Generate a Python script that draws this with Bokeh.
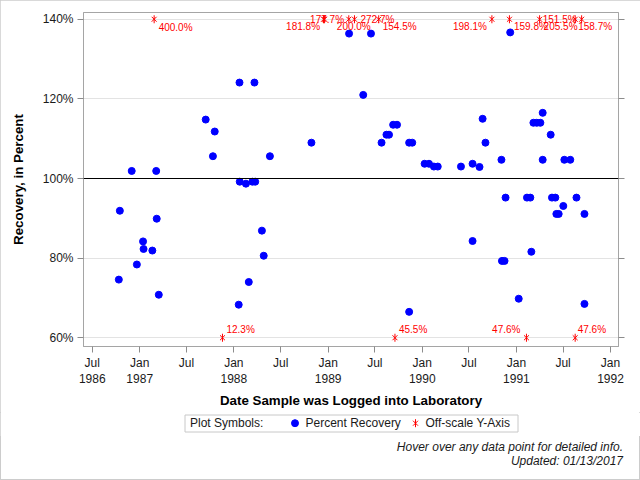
import numpy as np
import pandas as pd
from bokeh.plotting import figure
from bokeh.layouts import column
from bokeh.models import (Range1d, FixedTicker, DatetimeTickFormatter, PrintfTickFormatter,
                          CustomJSTickFormatter, LinearAxis, Span, ColumnDataSource, HoverTool,
                          Div)
from bokeh.core.properties import value
from bokeh.embed import file_html
from bokeh.resources import INLINE

FONT = "Liberation Sans"

# Percent recovery of samples whose value lies on the 60-140 % scale
recovery_dates = [
    "1986-10-12", "1986-10-16", "1986-12-01", "1986-12-21", "1987-01-14", "1987-01-16",
    "1987-02-19", "1987-03-06", "1987-03-08", "1987-03-16", "1987-09-14", "1987-10-12",
    "1987-10-19", "1988-01-20", "1988-01-23", "1988-01-24", "1988-02-17", "1988-02-28",
    "1988-03-13", "1988-03-21", "1988-03-24", "1988-04-19", "1988-04-26", "1988-05-20",
    "1988-10-28", "1989-03-23", "1989-05-17", "1989-06-16", "1989-07-27", "1989-08-15",
    "1989-08-25", "1989-09-10", "1989-09-25", "1989-11-11", "1989-11-11", "1989-11-23",
    "1990-01-10", "1990-01-27", "1990-02-15", "1990-03-02", "1990-05-31", "1990-07-15",
    "1990-07-15", "1990-08-11", "1990-08-23", "1990-09-03", "1990-11-04", "1990-11-06",
    "1990-11-16", "1990-11-20", "1990-12-08", "1991-01-10", "1991-02-11", "1991-02-24",
    "1991-02-28", "1991-03-08", "1991-03-21", "1991-04-04", "1991-04-13", "1991-04-13",
    "1991-05-14", "1991-05-19", "1991-06-01", "1991-06-05", "1991-06-14", "1991-07-02",
    "1991-07-06", "1991-07-29", "1991-08-22", "1991-09-22", "1991-09-22",
]
recovery_pct = [
    74.6, 91.9, 101.9, 78.4, 84.2, 82.3,
    81.9, 101.9, 89.9, 70.8, 114.8, 105.6,
    111.8, 68.3, 124.1, 99.2, 98.7, 74.0,
    99.2, 124.1, 99.2, 86.9, 80.6, 105.6,
    109.0, 136.4, 121.0, 136.4, 109.0, 111.0,
    111.0, 113.5, 113.5, 66.5, 109.0, 109.0,
    103.7, 103.7, 103.0, 103.0, 103.0, 103.7,
    84.3, 102.9, 115.0, 109.0, 104.7, 79.3,
    79.3, 95.2, 136.7, 69.8, 95.2, 95.2,
    81.6, 114.0, 114.0, 114.0, 116.5, 104.7,
    111.0, 95.2, 95.2, 91.1, 91.1, 93.1,
    104.7, 104.7, 95.2, 91.1, 68.5,
]

# Samples whose recovery falls outside the scale
offscale_dates = [
    "1987-02-26", "1987-11-18", "1988-12-14", "1988-12-18", "1989-03-22",
    "1989-04-13", "1989-07-16", "1989-09-17", "1990-09-28", "1990-12-05",
    "1991-02-09", "1991-04-01", "1991-08-17", "1991-08-17", "1991-09-11",
]
offscale_pct = [
    400.0, 12.3, 181.8, 177.7, 200.0,
    272.7, 154.5, 45.5, 198.1, 159.8,
    47.6, 205.5, 158.7, 47.6, 151.5,
]

# placement of each off-scale value label around its symbol (pixels, alignment)
label_dx = [4.5, 4, -3.5, 2.5, 5, 6, 4, 4, -5, 4.5, -6, 4, 3, 2.5, -5]
label_dy = [8, -8.5, 7.5, 0, 7.5, 0, 7.5, -8.5, 7.5, 7.5, -8.5, 7.5, 7.5, -8.5, 0]
label_align = ["left", "left", "right", "center", "center", "left", "left", "left",
               "right", "left", "right", "left", "left", "left", "right"]

y_ticks = [60, 80, 100, 120, 140]
x_tick_dates = ["1986-07-01", "1987-01-01", "1987-07-01", "1988-01-01", "1988-07-01",
                "1989-01-01", "1989-07-01", "1990-01-01", "1990-07-01", "1991-01-01",
                "1991-07-01", "1992-01-01"]
x_tick_labels = ["Jul\n1986", "Jan\n1987", "Jul", "Jan\n1988", "Jul", "Jan\n1989",
                 "Jul", "Jan\n1990", "Jul", "Jan\n1991", "Jul", "Jan\n1992"]

Y_LOW, Y_HIGH = 60, 140
GREY = "#a5a5a5"
TICK = "#8c8c8c"
TEXT = "#1a1a1a"

on_src = ColumnDataSource(dict(date=pd.to_datetime(recovery_dates), pct=recovery_pct))
off_vals = np.array(offscale_pct)
off_src = ColumnDataSource(dict(
    date=pd.to_datetime(offscale_dates),
    pct=off_vals,
    ypos=np.clip(off_vals, Y_LOW, Y_HIGH),
    txt=[f"{v:.1f}%" for v in off_vals],
    dx=label_dx, dy=label_dy, align=label_align,
))

# ---- main scatter panel -------------------------------------------------
BORDER_L, BORDER_R = 83, 22
p = figure(width=640, height=412, x_axis_type="datetime",
           output_backend="svg", toolbar_location=None,
           x_range=Range1d(pd.Timestamp("1986-05-28"), pd.Timestamp("1992-02-01")),
           y_range=Range1d(57.8, 141.7),
           min_border_left=BORDER_L, min_border_right=BORDER_R,
           min_border_top=12, min_border_bottom=66,
           background_fill_color="white", border_fill_color="white")
p.outline_line_color = GREY

tick_ms = ((pd.to_datetime(x_tick_dates) - pd.Timestamp("1970-01-01"))
           // pd.Timedelta(milliseconds=1)).astype(float).tolist()
xa = p.xaxis[0]
xa.ticker = FixedTicker(ticks=tick_ms)
xa.formatter = DatetimeTickFormatter(days="%b", months="%b", years="%b")
xa.major_label_overrides = dict(zip(tick_ms, x_tick_labels))
xa.axis_label = "Date Sample was Logged into Laboratory"
xa.axis_label_standoff = 4
xa.major_label_standoff = 3

ya = p.yaxis[0]
ya.ticker = FixedTicker(ticks=y_ticks)
ya.formatter = PrintfTickFormatter(format="%d%%")
ya.axis_label = "Recovery, in Percent"
ya.axis_label_standoff = 14
ya.major_label_standoff = 4

ra = LinearAxis(ticker=FixedTicker(ticks=y_ticks),
                formatter=CustomJSTickFormatter(code="return ''"))
p.add_layout(ra, "right")

for ax in (xa, ya, ra):
    ax.axis_line_color = GREY
    ax.major_tick_line_color = TICK
    ax.major_tick_out = 6
    ax.major_tick_in = 0
    ax.minor_tick_line_color = None
    ax.major_label_text_font = FONT
    ax.major_label_text_font_size = "12px"
    ax.major_label_text_color = TEXT
    ax.axis_label_text_font = FONT
    ax.axis_label_text_font_size = "10pt"
    ax.axis_label_text_font_style = "bold"
    ax.axis_label_text_color = "black"

p.xgrid.visible = False
p.ygrid.grid_line_color = "#e3e3e3"

p.add_layout(Span(location=100, dimension="width", line_color="black", line_width=1))

r_circ = p.scatter("date", "pct", source=on_src, size=7, color="blue")
p.scatter("date", "ypos", source=off_src, marker="x", size=7, line_color="red", line_width=1)
p.scatter("date", "ypos", source=off_src, marker="dash", size=8, angle=np.pi / 2,
          line_color="red", line_width=1)
p.text("date", "ypos", text="txt", source=off_src, x_offset="dx", y_offset="dy",
       text_align="align", text_baseline="middle", text_color="red",
       text_font=value(FONT), text_font_size="10px")

p.add_tools(HoverTool(renderers=[r_circ],
                      tooltips=[("Logged", "@date{%F}"), ("Recovery", "@pct{0.0}%")],
                      formatters={"@date": "datetime"}))

# ---- symbol key beneath the chart (x in page pixels, y down from strip top) ----
f = figure(width=640, height=24, output_backend="svg", toolbar_location=None,
           x_range=Range1d(BORDER_L, 640 - BORDER_R), y_range=Range1d(24, 0),
           x_axis_location=None, y_axis_location=None,
           min_border_left=BORDER_L, min_border_right=BORDER_R,
           min_border_top=0, min_border_bottom=0, outline_line_color=None,
           background_fill_color="white", border_fill_color="white")
f.grid.visible = False

f.quad(left=[184.5], right=[517.5], top=[2.5], bottom=[19.5],
       fill_color=None, line_color="#c8c8c8", line_width=1)
f.scatter([294.5], [10.7], size=7, color="blue")
f.scatter([415], [10.7], marker="x", size=7, line_color="red", line_width=1)
f.scatter([415], [10.7], marker="dash", size=8, angle=np.pi / 2, line_color="red", line_width=1)
f.text([189.5, 305, 425], [10.7] * 3,
       text=["Plot Symbols:", "Percent Recovery", "Off-scale Y-Axis"],
       text_baseline="middle", text_align="left", text_color=TEXT,
       text_font=value(FONT), text_font_size="12px")

# ---- notes in the lower right corner -------------------------------------
notes = Div(
    text=(f'<div style="width:640px;box-sizing:border-box;text-align:right;'
          f'padding:4px 17px 0 0;line-height:16px;'
          f'font:italic 12px \'{FONT}\';color:{TEXT};white-space:nowrap">'
          'Hover over any data point for detailed info.<br>Updated: 01/13/2017</div>'),
    width=640, height=44, margin=0)

page = column(p, f, notes, spacing=0)
page.styles = {"outline": "1px solid #cccccc", "outline-offset": "-1px"}

open("out.html", "w").write(file_html(page, INLINE))
